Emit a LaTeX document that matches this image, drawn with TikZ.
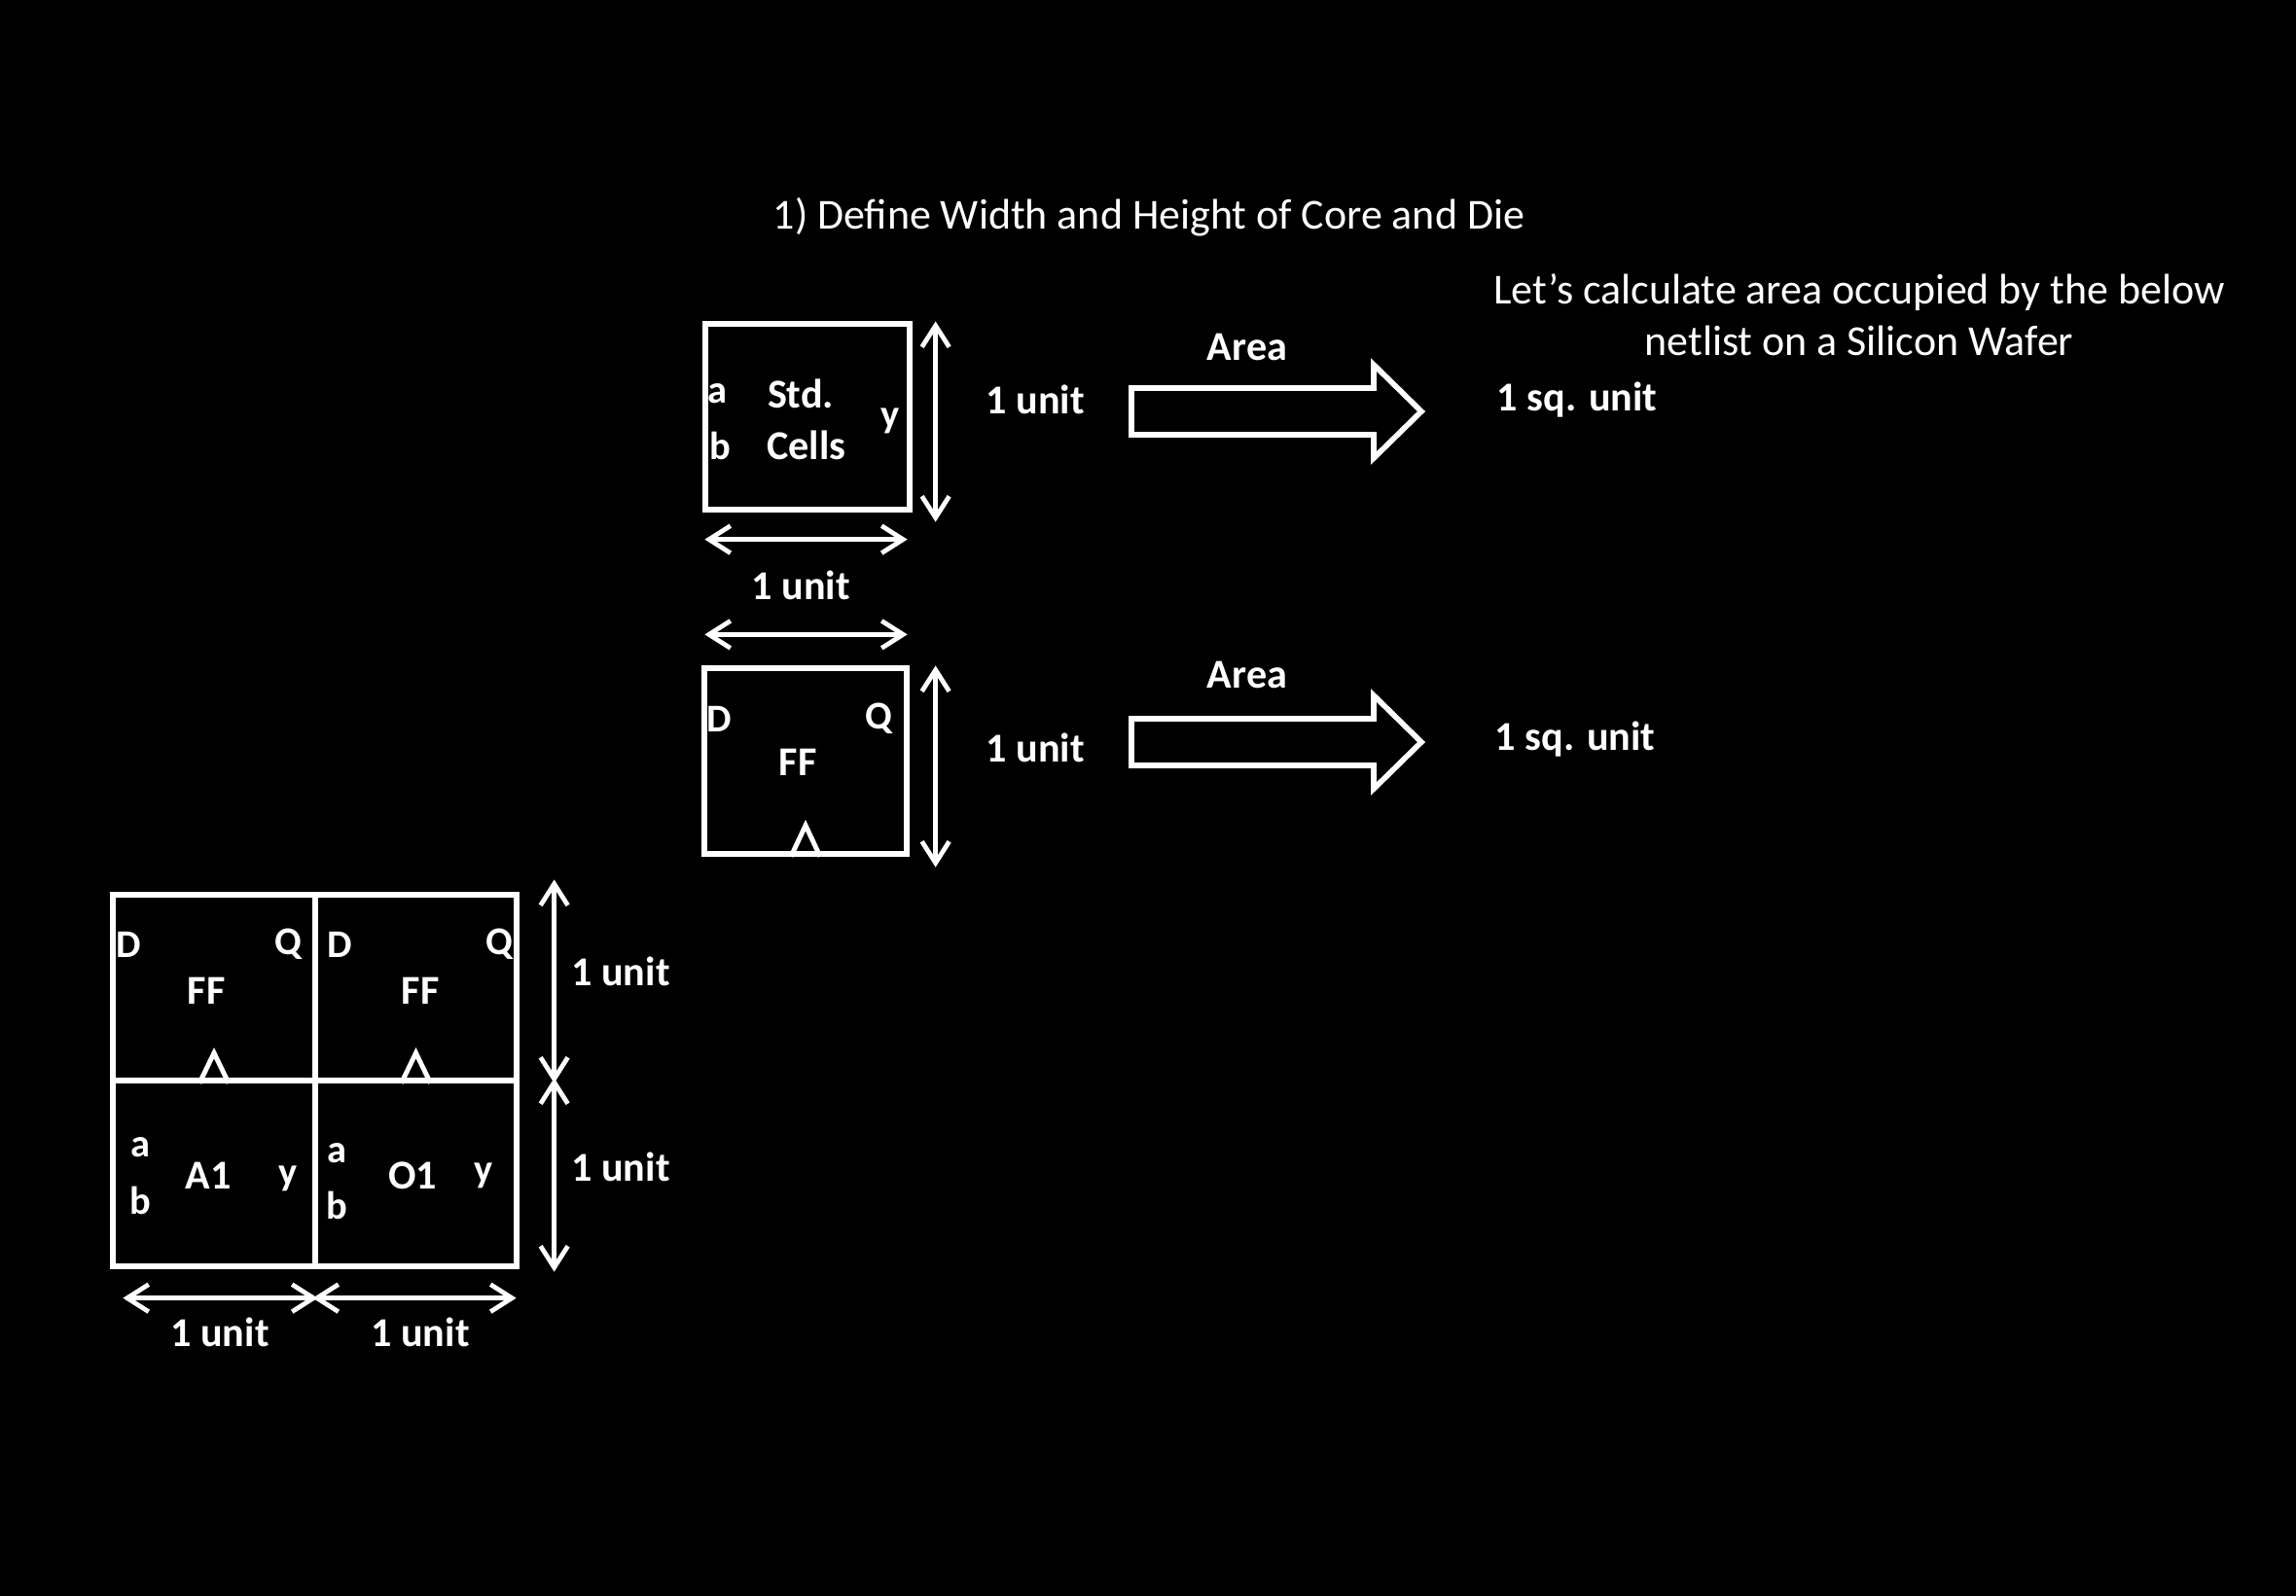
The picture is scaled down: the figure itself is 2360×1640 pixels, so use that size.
\documentclass[tikz,border=0pt]{standalone}
\usepackage{fontspec}
\setmainfont{Carlito}
\usetikzlibrary{arrows.meta}

\tikzset{
  cellbox/.style={draw=white, line width=1.5pt, minimum width=2.08cm, minimum height=1.91cm, inner sep=0pt},
  clockpen/.style={draw=white, line width=1.4pt},
  dimarrow/.style={draw=white, line width=1.35pt, {Straight Barb[length=2.2mm,width=2.8mm]}-{Straight Barb[length=2.2mm,width=2.8mm]}},
  bigarrow/.style={draw=white, line width=1.6pt, line join=miter},
  lbl/.style={text=white, inner sep=0pt, font=\bfseries\fontsize{12}{14}\selectfont},
  pinlbl/.style={text=white, inner sep=0pt, font=\bfseries\fontsize{11.5}{13}\selectfont},
  notetext/.style={text=white, inner sep=0pt, font=\fontsize{12.5}{15}\selectfont, align=center}
}

\begin{document}
\begin{tikzpicture}[x=0.1mm, y=-0.1mm]
\useasboundingbox (0,0) rectangle (2360,1640);
\fill[black] (-20,-20) rectangle (2380,1660);

%heading
\node[notetext] (title) at (1181,223) {1) Define Width and Height of Core and Die};
\node[notetext] (note) at (1911,324) {Let’s calculate area occupied by the below\\netlist on a Silicon Wafer};

%standard cell
\node[cellbox, minimum width=2.1cm] (std) at (830,428.5) {};
\node[pinlbl] (stda) at (737,405) {a};
\node[pinlbl] (stdb) at (740,458) {b};
\node[lbl] (stdname) at (823,405) {Std.};
\node[lbl] (stdname2) at (829,458) {Cells};
\node[pinlbl] (stdy) at (915,433) {y};
\draw[dimarrow] ([xshift=2.4mm]std.north east) -- ([xshift=2.4mm,yshift=-1mm]std.south east);
\draw[dimarrow] ([xshift=0.2mm,yshift=-2.8mm]std.south west) -- ([xshift=-0.5mm,yshift=-2.8mm]std.south east);
\node[lbl] (stdh) at (1064,411) {1 unit};
\node[lbl] (stdw) at (823,602) {1 unit};
\node[lbl] (stdarea) at (1282,357) {Area};
\draw[bigarrow] (1163,399) -- (1412,399) -- (1412,375) -- (1461,423) -- (1412,471) -- (1412,447) -- (1163,447) -- cycle;
\node[lbl] (stdsq) at (1621,411) {1 sq. unit};

%flip flop
\node[cellbox] (ff) at (828,782.5) {};
\node[pinlbl] (ffd) at (739,739) {D};
\node[pinlbl] (ffq) at (903,739) {Q};
\node[lbl] (ffname) at (820,784) {FF};
\draw[clockpen] ([xshift=-1.5mm]ff.south) -- ++(15,-32) -- ++(15,32);
\draw[dimarrow] ([xshift=0.3mm,yshift=3.2mm]ff.north west) -- ([xshift=-0.2mm,yshift=3.2mm]ff.north east);
\draw[dimarrow] ([xshift=2.7mm]ff.north east) -- ([xshift=2.7mm,yshift=-1.1mm]ff.south east);
\node[lbl] (ffh) at (1064,769) {1 unit};
\node[lbl] (ffarea) at (1282,694) {Area};
\draw[bigarrow] (1163,739) -- (1412,739) -- (1412,715) -- (1461,763) -- (1412,811) -- (1412,787) -- (1163,787) -- cycle;
\node[lbl] (ffsq) at (1619,760) {1 sq. unit};

%netlist placed
\node[cellbox] (ffl) at (220,1015.5) {};
\node[cellbox, minimum width=2.07cm] (ffr) at (427.5,1015.5) {};
\node[cellbox] (andc) at (220,1206.5) {};
\node[cellbox, minimum width=2.07cm] (orc) at (427.5,1206.5) {};
\node[pinlbl] (ffld) at (132,971) {D};
\node[pinlbl] (fflq) at (296,971) {Q};
\node[lbl] (fflname) at (212,1019) {FF};
\draw[clockpen] ([xshift=-1.5mm]ffl.south) -- ++(15,-31) -- ++(15,31);
\node[pinlbl] (ffrd) at (349,971) {D};
\node[pinlbl] (ffrq) at (513,971) {Q};
\node[lbl] (ffrname) at (432,1019) {FF};
\draw[clockpen] ([xshift=-1.5mm]ffr.south) -- ++(15,-31) -- ++(15,31);
\node[pinlbl] (anda) at (144,1180) {a};
\node[pinlbl] (andb) at (144,1234) {b};
\node[lbl] (andname) at (214,1209) {A1};
\node[pinlbl] (andy) at (296,1212) {y};
\node[pinlbl] (ora) at (346,1186) {a};
\node[pinlbl] (orb) at (346,1239) {b};
\node[lbl] (orname) at (424,1209) {O1};
\node[pinlbl] (ory) at (497,1209) {y};
%dimensions
\draw[dimarrow] ([xshift=3.6mm,yshift=1.3mm]ffr.north east) -- ([xshift=3.6mm]ffr.south east);
\draw[dimarrow] ([xshift=3.6mm]orc.north east) -- ([xshift=3.6mm,yshift=-0.3mm]orc.south east);
\draw[dimarrow] ([xshift=1.3mm,yshift=-3mm]andc.south west) -- ([yshift=-3mm]andc.south east);
\draw[dimarrow] ([yshift=-3mm]orc.south west) -- ([xshift=-0.3mm,yshift=-3mm]orc.south east);
\node[lbl] (toph) at (638,999) {1 unit};
\node[lbl] (both) at (638,1200) {1 unit};
\node[lbl] (leftw) at (226,1370) {1 unit};
\node[lbl] (rightw) at (432,1370) {1 unit};
\end{tikzpicture}
\end{document}
